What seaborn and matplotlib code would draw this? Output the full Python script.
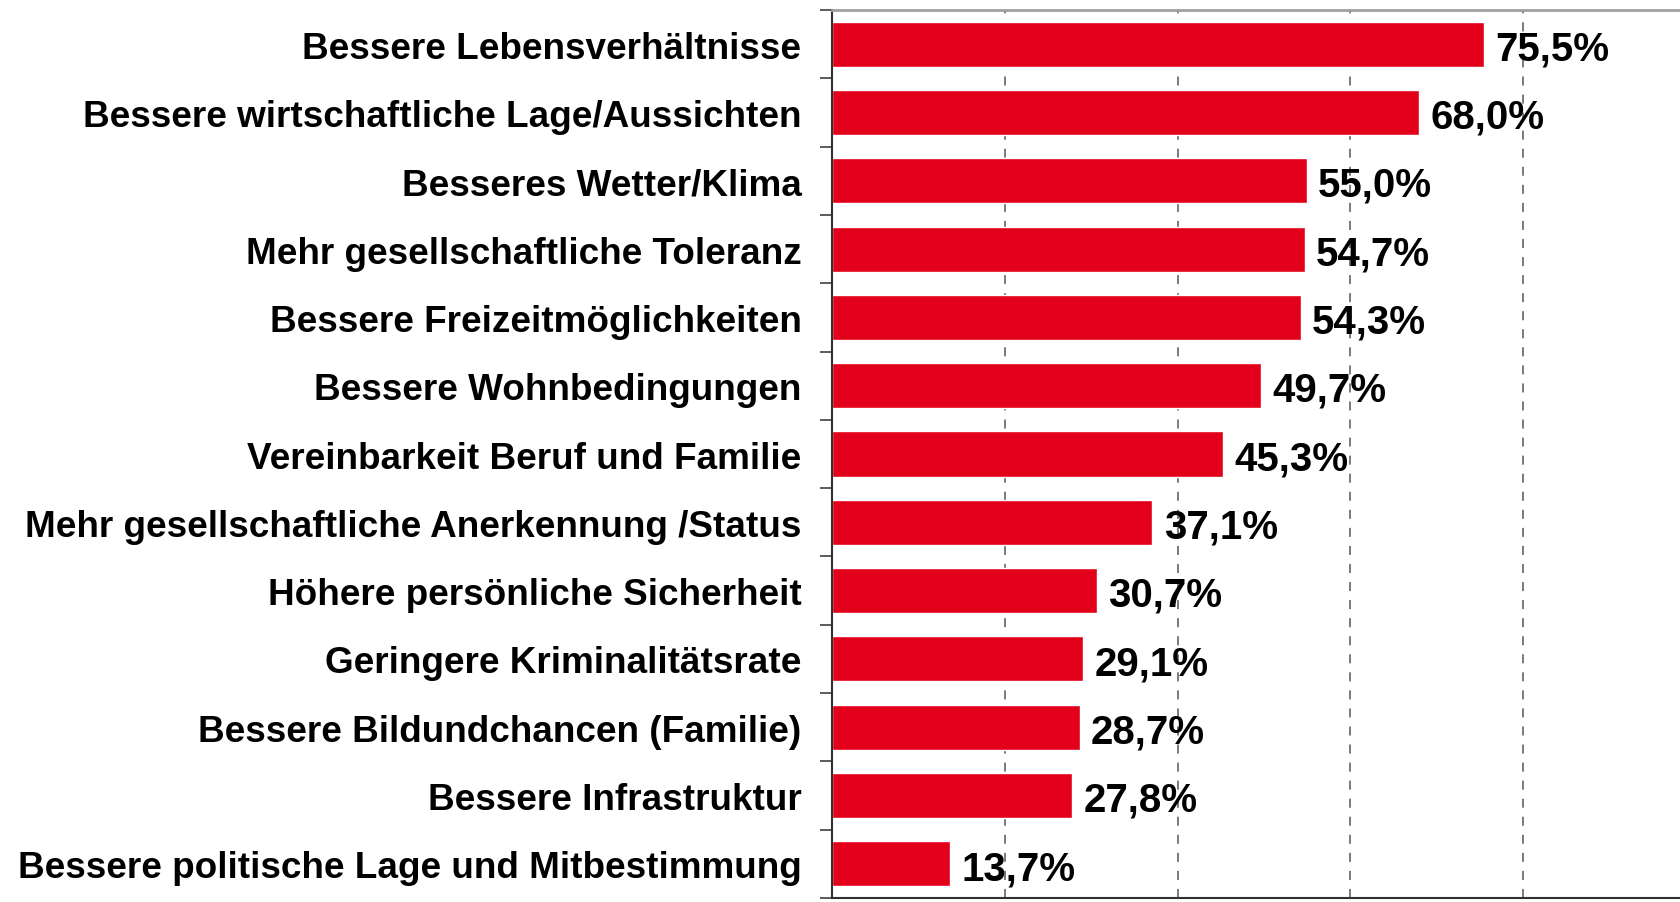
import matplotlib
matplotlib.use("Agg")
import matplotlib.pyplot as plt
import seaborn as sns
import pandas as pd
import numpy as np

categories = [
    "Bessere Lebensverhältnisse",
    "Bessere wirtschaftliche Lage/Aussichten",
    "Besseres Wetter/Klima",
    "Mehr gesellschaftliche Toleranz",
    "Bessere Freizeitmöglichkeiten",
    "Bessere Wohnbedingungen",
    "Vereinbarkeit Beruf und Familie",
    "Mehr gesellschaftliche Anerkennung /Status",
    "Höhere persönliche Sicherheit",
    "Geringere Kriminalitätsrate",
    "Bessere Bildundchancen (Familie)",
    "Bessere Infrastruktur",
    "Bessere politische Lage und Mitbestimmung",
]
values = [75.5, 68.0, 55.0, 54.7, 54.3, 49.7, 45.3, 37.1, 30.7, 29.1, 28.7, 27.8, 13.7]
grid_ticks = [20, 40, 60, 80]

sns.set_theme(style="white")
plt.rcParams["font.family"] = ["Liberation Sans", "DejaVu Sans"]
plt.rcParams["font.weight"] = "bold"

df = pd.DataFrame({"grund": categories, "anteil": values})

fig = plt.figure(figsize=(16.8, 9.03), dpi=100)
ax = fig.add_axes([0.4952, 0.0044, 0.5143, 0.9834])

sns.barplot(data=df, x="anteil", y="grund", orient="h", color="#E2001A",
            saturation=1, width=0.66, ax=ax)

ax.set_xlim(0, 100)
ax.set_ylim(len(categories) - 0.5, -0.5)
ax.set_xlabel("")
ax.set_ylabel("")

# dashed vertical grid
ax.set_xticks(grid_ticks)
ax.set_xticklabels([])
ax.tick_params(axis="x", length=0)
ax.xaxis.grid(True, linestyle=(0, (5, 5)), color="#707070", linewidth=1.3)
ax.set_axisbelow(True)

# category labels, ticks between categories
ax.set_yticks(np.arange(len(categories)))
ax.set_yticklabels(categories, fontsize=26.6, fontweight="bold", color="black")
ax.tick_params(axis="y", which="major", length=0, pad=22)
ax.set_yticks(np.arange(len(categories) + 1) - 0.5, minor=True)
ax.tick_params(axis="y", which="minor", length=9, width=1.2, color="#404040",
               direction="out", left=True)

ax.spines["right"].set_visible(False)
ax.spines["top"].set_color("#a0a0a0")
ax.spines["top"].set_linewidth(2)
ax.spines["left"].set_color("#303030")
ax.spines["left"].set_linewidth(1.5)
ax.spines["bottom"].set_color("#303030")
ax.spines["bottom"].set_linewidth(1.5)

labels = [f"{v:.1f}%".replace(".", ",") for v in values]
texts = ax.bar_label(ax.containers[0], labels=labels, padding=8, fontsize=29,
                     fontweight="bold", color="black")
for t in texts:
    t.xyann = (8, -3)

fig.savefig("out.png", dpi=100)
